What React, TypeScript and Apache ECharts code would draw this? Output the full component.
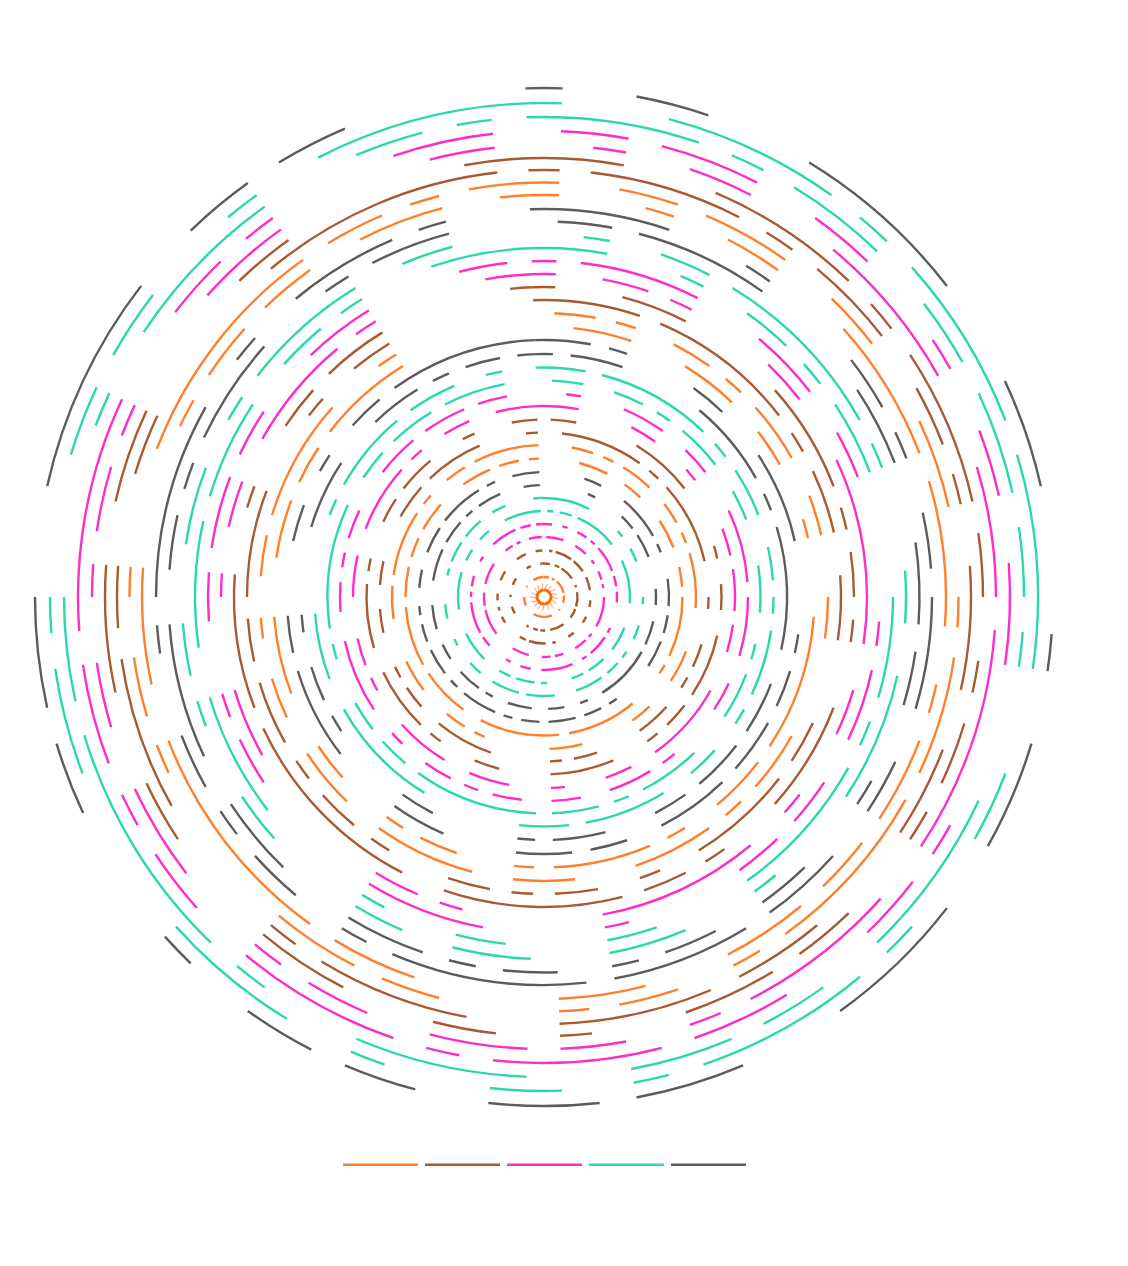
import React, { useEffect, useRef } from "react";
import * as echarts from "echarts";

// Angular bins: the circle is split into 86 equal steps. Each ring lists [fromBin, toBin] runs.
const BIN_COUNT = 86;
const seriesNames = ["Group A", "Group B", "Group C", "Group D", "Group E"];
const seriesColors = ["#ff7f2a", "#a85a32", "#ff2ccc", "#2bd8ae", "#5c5c5c"];
const ringRadii = [7,20,33.5,46.5,60,73,86,99,112,125,138.5,152,164.5,177.5,191,204,216.5,229.5,243,257,270.5,284,297,310,323,336,349,362,375.5,388,402,414.5,427,439,452,466,480,494,509];
const centreSpikeBins = [2,7,12,17,22,27,32,37,43,48,53,58,63,68,73,78,83];

const ring0 = [[0,43],[43,86]];
const ring1 = [[79,86],[0,4],[6,8],[10,19],[21,26],[31,32],[38,51],[59,65],[72,73]];
const ring2 = [[79,81],[85,86],[0,3],[5,7],[8,14],[17,18],[20,26],[27,31],[35,41],[43,45],[46,48],[50,51],[58,61],[65,66],[70,73]];
const ring3 = [[78,81],[84,86],[2,3],[4,9],[10,14],[16,20],[23,25],[28,30],[34,36],[40,41],[43,48],[49,51],[57,59],[61,62],[64,66],[70,73]];
const ring4 = [[83,86],[1,5],[8,11],[13,14],[16,18],[19,20],[22,29],[31,32],[33,36],[39,41],[42,44],[47,51],[56,62],[63,66],[68,73],[77,79],[80,81]];
const ring5 = [[76,81],[82,84],[85,86],[0,2],[4,5],[7,9],[10,11],[12,17],[18,20],[21,23],[28,29],[30,34],[35,36],[38,44],[46,48],[50,51],[55,57],[58,64],[65,66],[67,69],[72,73]];
const ring6 = [[80,86],[1,2],[3,5],[6,13],[16,23],[27,31],[33,36],[37,39],[43,44],[45,48],[49,51],[54,59],[63,69],[71,73],[75,77]];
const ring7 = [[85,86],[0,7],[12,13],[15,17],[22,23],[26,28],[30,31],[32,34],[35,39],[42,46],[47,51],[53,55],[58,59],[62,64],[68,69],[70,73],[74,77],[79,81]];
const ring8 = [[6,7],[11,13],[14,17],[21,23],[25,28],[29,36],[38,39],[41,43],[45,48],[50,51],[52,55],[57,59],[61,64],[67,71],[72,75],[76,77],[78,81],[84,86]];
const ring9 = [[5,7],[10,15],[16,17],[20,23],[24,26],[27,30],[35,36],[37,39],[40,43],[44,46],[47,48],[49,53],[54,55],[56,59],[60,62],[63,64],[66,68],[70,73],[74,79],[80,81],[83,86]];
const ring10 = [[4,7],[9,11],[14,17],[19,21],[22,28],[29,30],[34,41],[42,50],[52,57],[58,64],[65,68],[69,71],[72,75],[78,81],[82,84],[85,86]];
const ring11 = [[3,5],[6,7],[8,11],[13,15],[16,17],[18,23],[27,30],[33,35],[40,43],[49,50],[51,53],[56,59],[63,66],[67,73],[74,75],[77,79],[80,86]];
const ring12 = [[2,9],[10,11],[12,19],[22,23],[26,28],[29,30],[32,35],[39,41],[42,43],[48,53],[55,57],[58,59],[62,64],[66,68],[72,75],[76,81],[85,86]];
const ring13 = [[1,3],[8,13],[18,19],[21,23],[25,30],[31,33],[34,35],[38,43],[47,49],[52,53],[54,59],[61,66],[67,68],[71,73],[74,77],[80,81],[84,86]];
const ring14 = [[83,86],[0,3],[7,9],[12,13],[17,19],[20,23],[24,26],[29,35],[37,39],[42,43],[46,49],[51,55],[58,59],[60,62],[65,68],[70,75],[76,77],[79,81]];
const ring15 = [[2,3],[6,9],[11,13],[16,21],[22,26],[28,30],[34,35],[36,39],[41,43],[45,47],[48,49],[50,52],[54,55],[57,62],[64,66],[67,68],[69,71],[74,77],[78,81],[82,84]];
const ring16 = [[1,3],[5,7],[8,9],[10,13],[15,17],[20,23],[25,26],[27,30],[33,37],[38,39],[40,43],[44,52],[53,55],[56,58],[61,62],[63,71],[73,75],[76,79],[80,84]];
const ring17 = [[0,3],[4,11],[12,13],[14,17],[19,21],[22,23],[24,28],[29,30],[32,34],[36,41],[42,45],[51,58],[60,64],[70,71],[72,77],[78,81],[83,84]];
const ring18 = [[85,86],[0,1],[2,5],[10,15],[16,17],[18,25],[27,30],[31,34],[35,37],[40,43],[44,45],[50,52],[57,58],[59,61],[63,64],[69,73],[76,79],[80,81],[82,84]];
const ring19 = [[78,86],[0,3],[4,5],[9,11],[14,19],[24,25],[26,28],[29,32],[33,37],[39,41],[42,45],[49,52],[56,61],[62,64],[68,70],[72,73],[75,77]];
const ring20 = [[2,5],[8,11],[13,15],[18,19],[23,30],[31,34],[36,37],[38,43],[44,45],[48,50],[51,52],[55,57],[60,64],[67,70],[71,73],[74,79]];
const ring21 = [[1,3],[4,5],[7,9],[10,11],[12,15],[17,19],[22,24],[29,32],[33,34],[35,39],[42,45],[47,52],[54,57],[59,61],[63,64],[66,68],[69,75],[78,79]];
const ring22 = [[0,5],[6,13],[14,15],[16,19],[21,24],[28,30],[31,36],[38,39],[41,43],[44,45],[46,48],[51,52],[53,55],[56,57],[58,61],[62,64],[65,70],[74,75],[77,79]];
const ring23 = [[85,86],[0,1],[4,7],[12,17],[18,19],[20,22],[23,24],[27,32],[35,36],[37,39],[40,48],[50,59],[60,66],[69,70],[73,75],[76,79]];
const ring24 = [[84,86],[0,1],[3,5],[6,7],[11,13],[16,24],[26,28],[31,32],[34,41],[47,48],[49,51],[58,61],[65,66],[68,70],[72,77],[78,79]];
const ring25 = [[0,1],[83,85],[2,7],[10,13],[15,17],[23,24],[25,28],[30,32],[33,35],[40,41],[46,51],[57,59],[60,61],[64,66],[67,70],[71,73],[76,79]];
const ring26 = [[82,86],[0,3],[6,7],[9,11],[12,13],[14,17],[22,26],[27,28],[29,35],[39,41],[45,47],[50,51],[56,61],[63,68],[69,73],[75,77],[78,79]];
const ring27 = [[2,3],[5,7],[8,15],[16,17],[21,23],[25,30],[34,35],[38,41],[44,47],[49,51],[55,57],[60,61],[62,64],[67,70],[72,73],[74,79],[81,83]];
const ring28 = [[1,3],[4,9],[14,17],[20,23],[24,26],[29,30],[33,35],[37,39],[40,41],[43,45],[46,47],[48,51],[54,57],[59,64],[66,68],[69,70],[71,75],[78,79],[80,83]];
const ring29 = [[0,5],[8,9],[13,15],[16,17],[19,21],[22,26],[28,30],[32,35],[36,41],[42,49],[50,51],[53,55],[56,57],[58,60],[63,64],[65,72],[74,75],[77,81],[82,83]];
const ring30 = [[85,86],[0,1],[4,5],[7,9],[12,17],[18,23],[25,26],[27,30],[31,33],[34,37],[40,43],[48,51],[52,60],[62,66],[71,72],[73,75],[76,78],[80,83]];
const ring31 = [[84,86],[0,1],[3,5],[6,9],[11,13],[16,19],[22,23],[24,28],[29,35],[36,37],[39,41],[42,43],[47,49],[50,53],[59,60],[61,63],[65,66],[70,78],[79,81],[82,83]];
const ring32 = [[0,1],[2,7],[8,9],[10,13],[15,17],[18,19],[21,25],[27,30],[34,37],[38,43],[46,51],[52,53],[58,63],[64,66],[69,71],[77,85]];
const ring33 = [[84,86],[0,3],[6,11],[12,13],[14,19],[20,22],[24,25],[26,28],[29,30],[33,35],[36,39],[42,43],[45,47],[50,53],[57,59],[62,66],[68,71],[76,78]];
const ring34 = [[2,3],[5,7],[10,15],[18,22],[23,30],[32,37],[38,39],[41,43],[44,47],[49,51],[52,53],[56,59],[61,63],[65,66],[67,69],[70,71],[75,78],[83,85]];
const ring35 = [[1,3],[4,7],[9,11],[14,15],[17,19],[21,24],[29,30],[31,33],[36,39],[40,45],[46,47],[48,53],[55,57],[58,59],[60,63],[64,71],[74,76],[77,78],[82,85]];
const ring36 = [[0,5],[6,7],[8,11],[13,15],[16,19],[20,22],[23,24],[28,33],[35,37],[38,41],[44,49],[52,53],[54,61],[62,65],[70,71],[73,78],[81,83],[84,85]];
const ring37 = [[80,86],[0,1],[4,9],[10,11],[12,17],[18,24],[27,29],[32,33],[34,39],[40,41],[43,45],[48,49],[51,55],[60,63],[64,65],[69,71],[72,74],[77,78]];
const ring38 = [[0,1],[3,5],[8,13],[16,19],[23,24],[26,29],[31,35],[38,41],[42,45],[47,49],[50,52],[54,55],[59,61],[62,65],[68,74],[76,78],[79,81]];

const rings = [ring0,ring1,ring2,ring3,ring4,ring5,ring6,ring7,ring8,ring9,ring10,ring11,ring12,ring13,ring14,ring15,ring16,ring17,ring18,ring19,ring20,ring21,ring22,ring23,ring24,ring25,ring26,ring27,ring28,ring29,ring30,ring31,ring32,ring33,ring34,ring35,ring36,ring37,ring38];

function rowsFor(group: number) {
  const rows: number[][] = [];
  rings.forEach((segments, k) => {
    if (Math.floor(k / 2) % seriesNames.length !== group) return;
    segments.forEach(([a, b]) => rows.push([ringRadii[k], a, b]));
  });
  return rows;
}

function renderArc(params: any, api: any) {
  const r = api.value(0);
  const p0 = api.coord([r, api.value(1)]);
  const p1 = api.coord([r, api.value(2)]);
  const cx = params.coordSys.cx;
  const cy = params.coordSys.cy;
  const inner = r < 10;
  return {
    type: "arc",
    shape: {
      cx,
      cy,
      r,
      startAngle: Math.atan2(p0[1] - cy, p0[0] - cx),
      endAngle: Math.atan2(p1[1] - cy, p1[0] - cx),
      clockwise: true,
    },
    style: { stroke: inner ? "#ff6a00" : api.visual("color"), fill: null, lineWidth: inner ? 3 : 2.4, lineCap: "butt" },
  };
}

function renderSpike(_params: any, api: any) {
  const bin = api.value(0);
  const a = api.coord([8, bin]);
  const b = api.coord([13.5, bin + 2]);
  return {
    type: "line",
    shape: { x1: a[0], y1: a[1], x2: b[0], y2: b[1] },
    style: { stroke: "#ff7f2a", lineWidth: 0.8, fill: null },
  };
}

export default function App() {
  const ref = useRef<HTMLDivElement>(null);
  useEffect(() => {
    if (!ref.current) return;
    const chart = echarts.init(ref.current, undefined, { renderer: "svg" });
    chart.setOption({
      animation: false,
      backgroundColor: "#ffffff",
      color: seriesColors,
      polar: { center: [544, 597], radius: 510 },
      angleAxis: { type: "value", min: 0, max: BIN_COUNT, startAngle: 92.09, clockwise: true, show: false },
      radiusAxis: { type: "value", min: 0, max: 510, show: false },
      legend: {
        data: seriesNames,
        left: 338,
        top: 1158.5,
        itemWidth: 75,
        itemHeight: 2.4,
        itemGap: 7,
        icon: "rect",
        formatter: () => "",
        textStyle: { fontSize: 1 },
      },
      series: [
        ...seriesNames.map((name, i) => ({
          type: "custom",
          name,
          coordinateSystem: "polar",
          clip: false,
          encode: { radius: 0, angle: 1 },
          itemStyle: { color: seriesColors[i] },
          renderItem: renderArc,
          data: rowsFor(i),
        })),
        {
          type: "custom",
          name: "centre",
          coordinateSystem: "polar",
          clip: false,
          encode: { angle: 0 },
          renderItem: renderSpike,
          data: centreSpikeBins.map((b) => [b]),
        },
      ],
    });
    return () => chart.dispose();
  }, []);
  return <div ref={ref} style={{ position: "absolute", left: 0, top: 0, width: 1128, height: 1266 }} />;
}
